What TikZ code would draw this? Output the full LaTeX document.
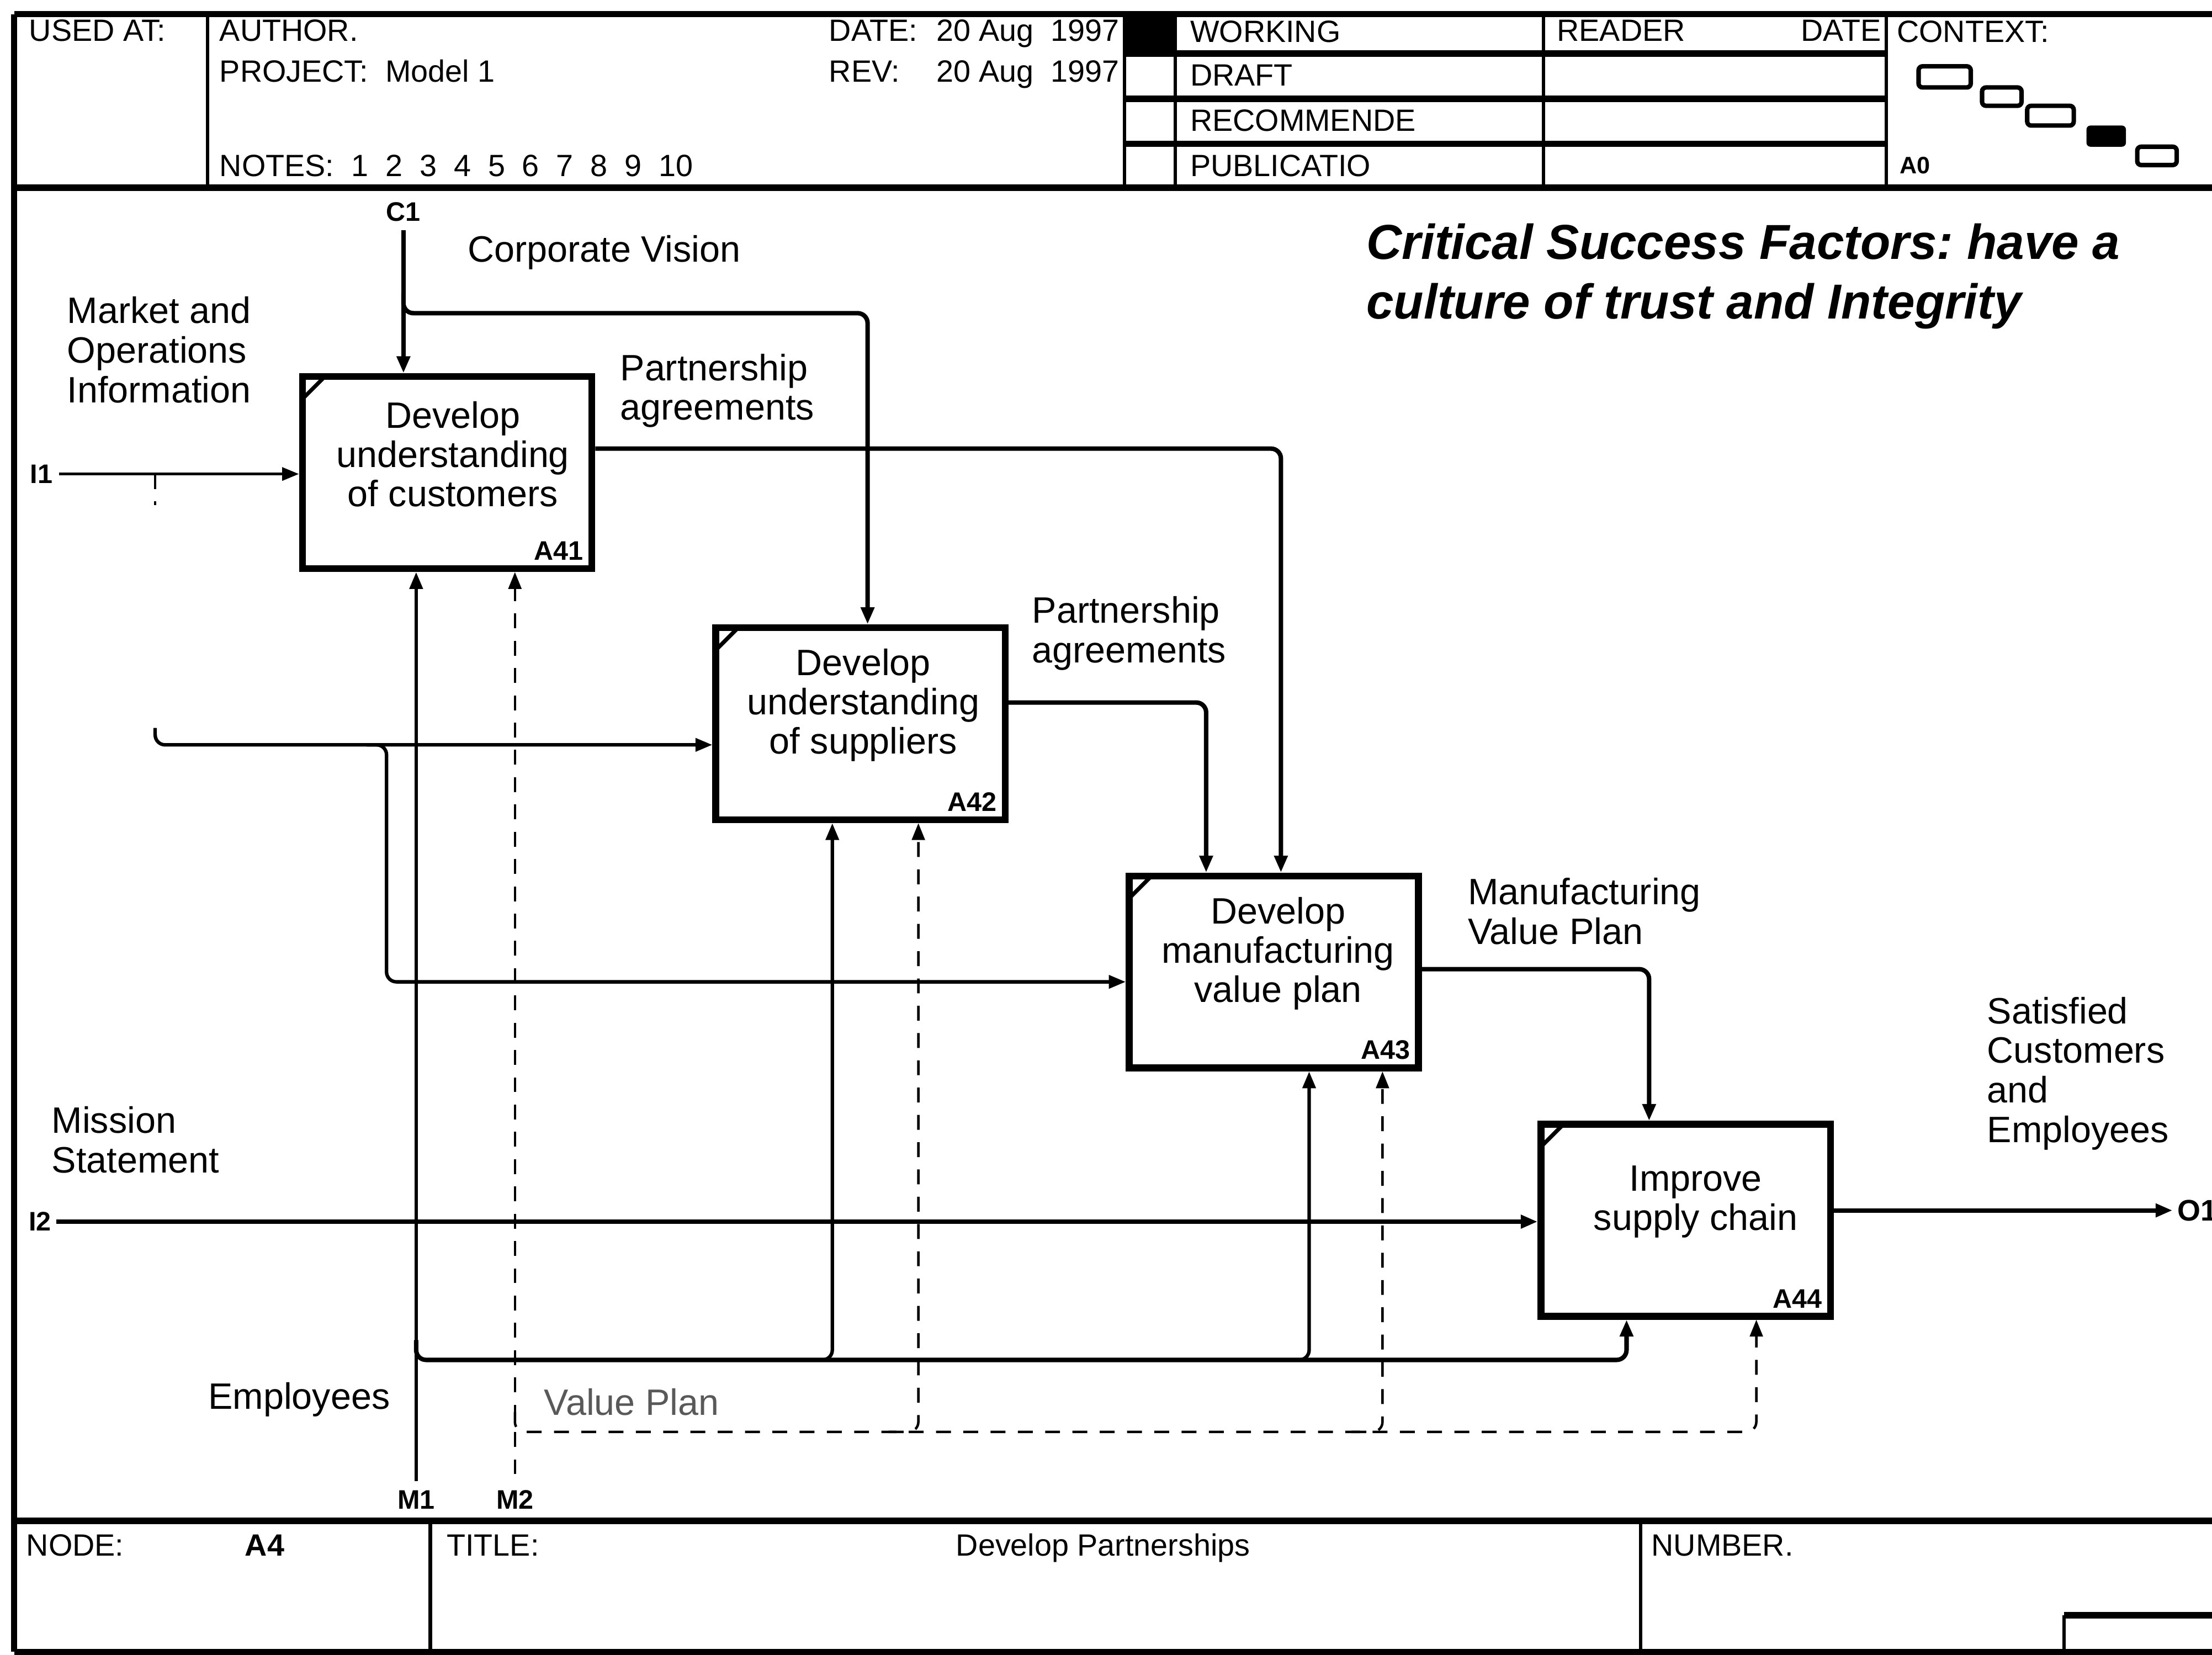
\documentclass[tikz,border=0pt]{standalone}
\usepackage{fontspec}
\setmainfont{Liberation Sans}
\usetikzlibrary{arrows.meta,calc,positioning}
\frenchspacing

\tikzset{
  actbox/.style={draw, line width=1.4pt, minimum width=2.05cm, minimum height=1.36cm, inner sep=0pt,
    path picture={\draw[line width=0.8pt] ([yshift=-4.5pt]path picture bounding box.north west) -- ([xshift=4.5pt]path picture bounding box.north west);}},
  acttext/.style={font=\fontsize{7.4}{7.9}\selectfont, align=center, inner sep=0pt},
  boxno/.style={font=\fontsize{5.4}{6}\selectfont\bfseries, inner sep=2.2pt, anchor=south east},
  flow/.style={line width=0.9pt, rounded corners=2pt, -{Triangle[length=3.4pt,width=2.6pt]}},
  faint/.style={line width=0.5pt, dash pattern=on 3pt off 2.5pt, rounded corners=2pt, -{Triangle[length=3.4pt,width=2.6pt]}},
  arrowlbl/.style={font=\fontsize{7.4}{8}\selectfont, align=left, inner sep=0pt, anchor=west},
  portlbl/.style={font=\fontsize{5.4}{6}\selectfont\bfseries, inner sep=0pt},
  formtxt/.style={font=\fontsize{6.2}{7}\selectfont, inner sep=0pt, anchor=base west},
  frame/.style={line width=1.3pt},
  rule/.style={line width=0.7pt},
  ctxbox/.style={line width=0.9pt, rounded corners=0.8pt}
}

\begin{document}
\begin{tikzpicture}[x=0.01cm, y=-0.01cm]
  \useasboundingbox (0,0) rectangle (1568,1173);

  % Form frame
  \draw[frame] (10,10) -- (1580,10);
  \draw[frame] (10,133) -- (1580,133);
  \draw[frame] (10,1078) -- (1580,1078);
  \draw[frame] (10,1171) -- (1580,1171);
  \draw[frame] (10,10) -- (10,1171);
  \draw[rule] (147,10) -- (147,133);
  \draw[rule] (797,10) -- (797,133);
  \draw[rule] (833,10) -- (833,133);
  \draw[rule] (1094,10) -- (1094,133);
  \draw[rule] (1337,10) -- (1337,133);
  \draw[frame] (797,38) -- (1337,38);
  \draw[frame] (797,70) -- (1337,70);
  \draw[frame] (797,102) -- (1337,102);
  \fill (797,10) rectangle (833,38);
  \draw[rule] (305,1078) -- (305,1171);
  \draw[rule] (1163,1078) -- (1163,1171);
  \draw[rule] (1463,1171) -- (1463,1145);
  \draw[frame] (1463,1145) -- (1580,1145);

  % Header texts
  \node[formtxt] (usedat) at (20,29) {USED AT:};
  \node[formtxt] (author) at (155,29) {AUTHOR.};
  \node[formtxt] (project) at (155,58) {PROJECT:\ \ Model 1};
  \node[formtxt] (notes) at (155,125) {NOTES:\ \ 1\ \ 2\ \ 3\ \ 4\ \ 5\ \ 6\ \ 7\ \ 8\ \ 9\ \ 10};
  \node[formtxt] (datelbl) at (587,29) {DATE:};
  \node[formtxt] (dateval) at (663,29) {20 Aug\ \ 1997};
  \node[formtxt] (revlbl) at (587,58) {REV:};
  \node[formtxt] (revval) at (663,58) {20 Aug\ \ 1997};
  \node[formtxt] (working) at (843,30) {WORKING};
  \node[formtxt] (draft) at (843,61) {DRAFT};
  \node[formtxt] (recomm) at (843,93) {RECOMMENDE};
  \node[formtxt] (public) at (843,125) {PUBLICATIO};
  \node[formtxt] (reader) at (1103,29) {READER};
  \node[formtxt, anchor=base east] (rdate) at (1334,29) {DATE};
  \node[formtxt] (context) at (1344,30) {CONTEXT:};
  \node[formtxt, font=\fontsize{4.8}{5}\selectfont\bfseries] (ctxa0) at (1346,123) {A0};

  % Context boxes
  \draw[ctxbox] (1360,47) rectangle (1397,62);
  \draw[ctxbox] (1405,62) rectangle (1433,75);
  \draw[ctxbox] (1437,75) rectangle (1470,89);
  \fill[rounded corners=0.8pt] (1479,89) rectangle (1507,104);
  \draw[ctxbox] (1515,104) rectangle (1543,117);

  % Footer texts
  \node[formtxt] (nodelbl) at (18,1103) {NODE:};
  \node[formtxt, font=\fontsize{6.2}{7}\selectfont\bfseries] (nodeval) at (173,1103) {A4};
  \node[formtxt] (titlelbl) at (316,1103) {TITLE:};
  \node[formtxt] (titleval) at (677,1103) {Develop Partnerships};
  \node[formtxt] (numberlbl) at (1170,1103) {NUMBER.};

  % Critical success factors
  \node[formtxt, font=\fontsize{9.9}{12}\selectfont\bfseries\itshape, align=left, anchor=west] (csf) at (968,196)
    {Critical Success Factors: have a\\culture of trust and Integrity};

  % Activity boxes
  \node[actbox] (a41) at (317,335) {};
  \node[actbox] (a42) at (610,513) {};
  \node[actbox] (a43) at (903,689) {};
  \node[actbox] (a44) at (1195,865) {};
  \node[acttext] (a41t) at ($(a41.center)+(4,-13)$) {Develop\\understanding\\of customers};
  \node[acttext] (a42t) at ($(a42.center)+(2,-13)$) {Develop\\understanding\\of suppliers};
  \node[acttext] (a43t) at ($(a43.center)+(3,-13)$) {Develop\\manufacturing\\value plan};
  \node[acttext] (a44t) at ($(a44.center)+(7,-13)$) {Improve\\supply chain};
  \node[boxno] (a41n) at (a41.south east) {A41};
  \node[boxno] (a42n) at (a42.south east) {A42};
  \node[boxno] (a43n) at (a43.south east) {A43};
  \node[boxno] (a44n) at (a44.south east) {A44};

  % Controls
  \node[portlbl] (c1l) at (286,150) {C1};
  \coordinate (c1) at (286,163);
  \coordinate (c1b) at (286,208);
  \draw[flow] (c1) -- (c1 |- a41.north);
  \draw[flow] (c1b) -- ++(0,14) -| ($(a42.north)+(5,0)$);
  \node[arrowlbl] (vision) at (331,179) {Corporate Vision};
  \draw[flow] ($(a41.east)+(0,-17)$) -| ($(a43.north)+(5,0)$);
  \node[arrowlbl] (pa1) at (439,277) {Partnership\\agreements};
  \draw[flow] ($(a42.east)+(0,-15)$) -| ($(a43.north)+(-48,0)$);
  \node[arrowlbl] (pa2) at (731,449) {Partnership\\agreements};
  \draw[flow] ($(a43.east)+(0,-2)$) -| ($(a44.north)+(-26,0)$);
  \node[arrowlbl] (mvp) at (1040,646) {Manufacturing\\Value Plan};

  % Inputs
  \node[portlbl, anchor=east] (i1l) at (38,336) {I1};
  \coordinate (i1) at (42,336);
  \coordinate (i1t) at (110,336);
  \coordinate (i1b) at (110,516);
  \coordinate (i1c) at (260,528);
  \draw[flow, line width=0.6pt] (i1) -- (i1 -| a41.west);
  \draw[faint, -] (i1t) -- ++(0,22);
  \draw[flow, line width=0.7pt] (i1b) |- ($(a42.west)+(0,15)$);
  \draw[flow, line width=0.7pt] (i1c) -- ++(14,0) |- ($(a43.west)+(0,7)$);
  \node[arrowlbl] (market) at (47,248) {Market and\\Operations\\Information};
  \node[portlbl, anchor=east] (i2l) at (37,866) {I2};
  \coordinate (i2) at (40,866);
  \draw[flow] (i2) -- (i2 -| a44.west);
  \node[arrowlbl] (mission) at (36,808) {Mission\\Statement};

  % Output
  \coordinate (o1) at (1540,858);
  \draw[flow] ($(a44.east)+(0,-7)$) -- (o1);
  \node[portlbl, anchor=west, font=\fontsize{6}{6}\selectfont\bfseries] (o1l) at (1543,858) {O1};
  \node[arrowlbl] (satisfied) at (1408,761) {Satisfied\\Customers\\and\\Employees};

  % Mechanisms
  \node[portlbl] (m1l) at (295,1063) {M1};
  \node[portlbl] (m2l) at (365,1063) {M2};
  \coordinate (m1) at (295,1050);
  \coordinate (m1b) at (295,950);
  \coordinate (m1c) at (570,964);
  \coordinate (m1d) at (908,964);
  \draw[flow, line width=0.7pt] (m1) -- (m1 |- a41.south);
  \draw[flow] (m1b) -- ++(0,14) -| ($(a44.south)+(-42,0)$);
  \draw[flow, line width=0.7pt] (m1c) -| ($(a42.south)+(-20,0)$);
  \draw[flow, line width=0.7pt] (m1d) -| ($(a43.south)+(25,0)$);
  \node[arrowlbl] (employees) at (147,992) {Employees};
  \coordinate (m2) at (365,1045);
  \coordinate (m2b) at (365,1001);
  \coordinate (m2c) at (630,1015);
  \coordinate (m2d) at (958,1015);
  \draw[faint] (m2) -- (m2 |- a41.south);
  \draw[faint] (m2b) -- ++(0,14) -| ($(a44.south)+(50,0)$);
  \draw[faint] (m2c) -| ($(a42.south)+(41,0)$);
  \draw[faint] (m2d) -| ($(a43.south)+(77,0)$);
  \node[arrowlbl, text=black!65] (valueplan) at (385,994) {Value Plan};
\end{tikzpicture}
\end{document}
